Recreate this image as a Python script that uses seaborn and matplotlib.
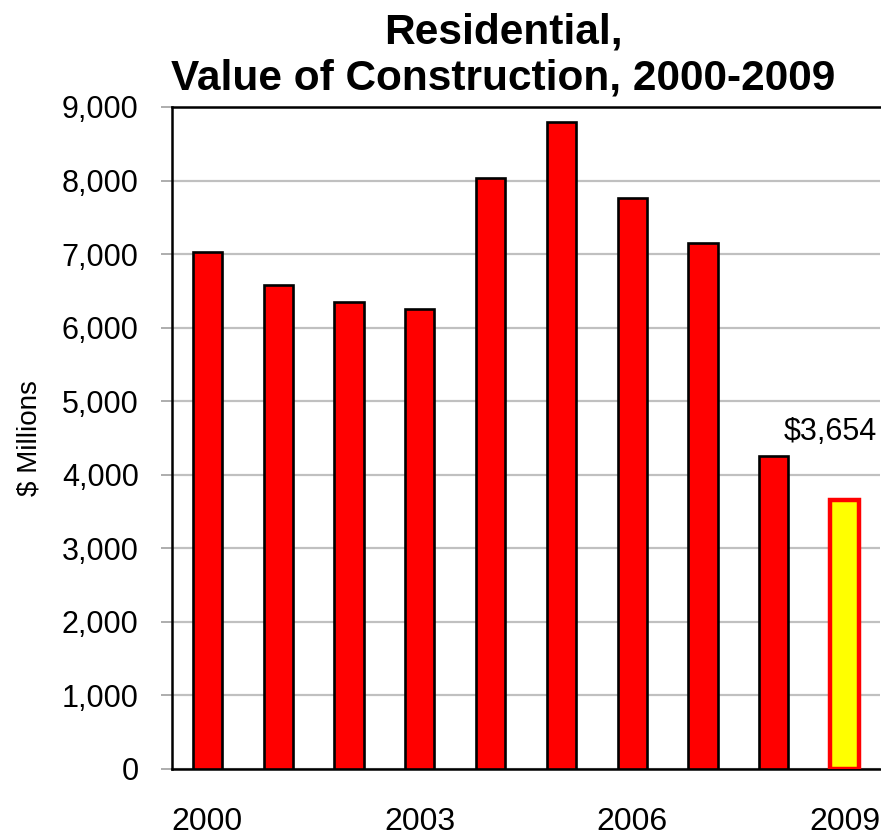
import matplotlib
matplotlib.use("Agg")
import matplotlib.pyplot as plt
import seaborn as sns
import numpy as np

years = ["2000", "2001", "2002", "2003", "2004", "2005", "2006", "2007", "2008", "2009"]
values = [7030, 6580, 6350, 6250, 8035, 8795, 7760, 7150, 4255, 3654]
shown_years = ["2000", "2003", "2006", "2009"]
yticks = [0, 1000, 2000, 3000, 4000, 5000, 6000, 7000, 8000, 9000]

sns.set_style("white")
plt.rcParams["font.family"] = ["Liberation Sans", "DejaVu Sans"]
plt.rcParams["text.color"] = "black"
plt.rcParams["axes.labelcolor"] = "black"
plt.rcParams["xtick.labelcolor"] = "black"
plt.rcParams["ytick.labelcolor"] = "black"

fig = plt.figure(figsize=(8.81, 8.40), dpi=100)
ax = fig.add_axes([172 / 881, 71 / 840, 708 / 881, 662 / 840])

fills = ["#FF0000"] * 9 + ["#FFFF00"]
sns.barplot(x=years, y=values, hue=years, palette=fills, legend=False,
            width=0.41, saturation=1, ax=ax, zorder=3)
for i, p in enumerate(ax.patches):
    if i == len(years) - 1:
        p.set_edgecolor("#FF0000")
        p.set_linewidth(3.2)
    else:
        p.set_edgecolor("black")
        p.set_linewidth(1.9)

ax.set_xlim(-0.5, 9.5)
ax.set_ylim(0, 9000)
ax.set_yticks(yticks)
ax.set_yticklabels([f"{v:,}" for v in yticks], fontsize=22)
ax.yaxis.grid(True, color="#C0C0C0", linewidth=1.6, zorder=0)
ax.set_axisbelow(True)

ax.set_xticks([years.index(y) for y in shown_years])
ax.set_xticklabels(shown_years, fontsize=23)
ax.set_xticks(np.arange(-0.5, 10, 1), minor=True)
ax.tick_params(axis="x", which="major", length=0, pad=27)
ax.tick_params(axis="x", which="minor", length=8, width=1.2, color="#A0A0A0", direction="out")
ax.tick_params(axis="y", which="major", length=8, width=1.2, color="#A0A0A0", direction="out", pad=16, left=True)

for s in ["left", "top", "bottom"]:
    ax.spines[s].set_color("black")
    ax.spines[s].set_linewidth(1.8)
ax.spines["right"].set_visible(False)

ax.set_xlabel("")
ax.set_ylabel("$ Millions", fontsize=20, labelpad=14)

ax.text(9.45, 4380, "$3,654", ha="right", va="bottom", fontsize=22)

fig.suptitle("Residential,\nValue of Construction, 2000-2009", x=0.571, y=0.985,
             fontsize=30.5, fontweight="bold", linespacing=1.18)

fig.savefig("out.png", dpi=100)
